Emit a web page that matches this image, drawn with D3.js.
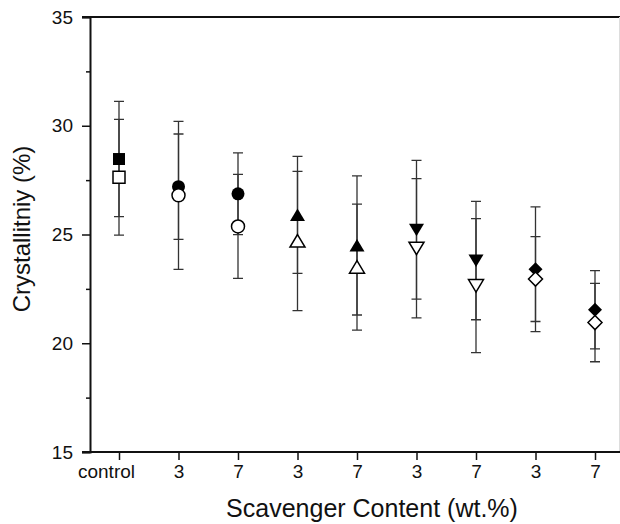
<!DOCTYPE html>
<html>
<head>
<meta charset="utf-8">
<script src="https://cdn.jsdelivr.net/npm/d3@7"></script>
<style>
  body { margin: 0; background: #fff; }
  text { font-family: "Liberation Sans", Arial, sans-serif; fill: #111; }
</style>
</head>
<body>
<script>
var categories = ["control", "3", "7", "3", "7", "3", "7", "3", "7"];
var shapes = ["square", "circle", "circle", "up", "up", "down", "down", "diamond", "diamond"];
var filledVals = [28.47, 27.2, 26.87, 25.9, 24.5, 25.22, 23.8, 23.4, 21.54];
var filledErr = [2.65, 2.42, 1.88, 2.69, 3.2, 3.19, 2.72, 2.87, 1.8];
var openVals = [27.63, 26.8, 25.37, 24.7, 23.5, 24.37, 22.65, 22.95, 20.95];
var openErr = [2.66, 3.4, 2.39, 3.2, 2.9, 3.2, 3.08, 1.95, 1.8];
var yTicks = [15, 20, 25, 30, 35];
var yMinor = [17.5, 22.5, 27.5, 32.5];

var w = 620;
var h = 524;
var plotL = 90, plotT = 17, plotB = 452;

var svg = d3.select("body")
            .append("svg")
            .attr("width", w)
            .attr("height", h);

var x = d3.scalePoint()
  .domain(d3.range(categories.length))
  .range([119, 595]);

var y = d3.scaleLinear()
  .domain([15, 35])
  .range([plotB, plotT]);

// frame: top line and faint right edge
svg.append("line")
  .attr("x1", plotL - 8).attr("x2", w)
  .attr("y1", plotT).attr("y2", plotT)
  .attr("stroke", "#111").attr("stroke-width", 2);
svg.append("line")
  .attr("x1", 619.5).attr("x2", 619.5)
  .attr("y1", plotT).attr("y2", plotB)
  .attr("stroke", "#ddd").attr("stroke-width", 1);

// y axis
var yAxis = svg.append("g")
  .attr("transform", "translate(" + plotL + ",0)")
  .call(d3.axisLeft(y).tickValues(yTicks).tickSize(8).tickPadding(9).tickFormat(d3.format("d")));
yAxis.select(".domain").attr("stroke", "#111").attr("stroke-width", 2);
yAxis.selectAll(".tick line").attr("stroke", "#111").attr("stroke-width", 1.5);
yAxis.selectAll("text").style("font-size", "19px").style("font-family", "Liberation Sans, Arial, sans-serif").attr("fill", "#111");

svg.append("g")
  .attr("transform", "translate(" + plotL + ",0)")
  .call(d3.axisLeft(y).tickValues(yMinor).tickSize(4).tickFormat(""))
  .call(function(g) {
    g.select(".domain").remove();
    g.selectAll(".tick line").attr("stroke", "#111").attr("stroke-width", 1.5);
  });

// x axis
var xAxis = svg.append("g")
  .attr("transform", "translate(0," + plotB + ")")
  .call(d3.axisBottom(x).tickSize(8).tickPadding(5).tickFormat(function(i) { return categories[i]; }));
xAxis.select(".domain").attr("d", "M" + (plotL - 8) + ",0H" + w).attr("stroke", "#111").attr("stroke-width", 2);
xAxis.selectAll(".tick line").attr("stroke", "#111").attr("stroke-width", 1.5);
xAxis.selectAll("text").style("font-size", "19px").style("font-family", "Liberation Sans, Arial, sans-serif").attr("fill", "#111")
  .attr("dx", function(i) { return i === 0 ? -13 : 0; });

// axis titles
svg.append("text")
  .attr("x", 372)
  .attr("y", 517)
  .attr("text-anchor", "middle")
  .style("font-size", "25px")
  .text("Scavenger Content (wt.%)");

svg.append("text")
  .attr("transform", "translate(30,229) rotate(-90)")
  .attr("text-anchor", "middle")
  .style("font-size", "24px")
  .text("Crystallitniy (%)");

// markers
function markerPath(shape) {
  switch (shape) {
    case "square": return "M-6,-6H6V6H-6Z";
    case "circle": return "M-6.5,0A6.5,6.5 0 1,0 6.5,0A6.5,6.5 0 1,0 -6.5,0Z";
    case "up": return "M0,-6.5L7.5,6L-7.5,6Z";
    case "down": return "M0,6.5L7.5,-6L-7.5,-6Z";
    case "diamond": return "M0,-7L7,0L0,7L-7,0Z";
  }
}

function drawSeries(vals, errs) {
  var data = vals.map(function(v, i) { return {i: i, v: v, e: errs[i]}; });
  svg.append("g").selectAll("path")
    .data(data).enter()
    .append("path")
    .attr("d", function(d) {
      var cx = x(d.i), y1 = y(d.v + d.e), y2 = y(d.v - d.e);
      return "M" + cx + "," + y1 + "V" + y2 +
             "M" + (cx - 5) + "," + y1 + "H" + (cx + 5) +
             "M" + (cx - 5) + "," + y2 + "H" + (cx + 5);
    })
    .attr("fill", "none")
    .attr("stroke", "#333")
    .attr("stroke-width", 1.3);
  return data;
}

var fd = drawSeries(filledVals, filledErr);
var od = drawSeries(openVals, openErr);

svg.append("g").selectAll("path")
  .data(fd).enter()
  .append("path")
  .attr("transform", function(d) { return "translate(" + x(d.i) + "," + y(d.v) + ")"; })
  .attr("d", function(d) { return markerPath(shapes[d.i]); })
  .attr("fill", "#000");

svg.append("g").selectAll("path")
  .data(od).enter()
  .append("path")
  .attr("transform", function(d) { return "translate(" + x(d.i) + "," + y(d.v) + ")"; })
  .attr("d", function(d) { return markerPath(shapes[d.i]); })
  .attr("fill", "#fff")
  .attr("stroke", "#000")
  .attr("stroke-width", 1.5);
</script>
</body>
</html>
